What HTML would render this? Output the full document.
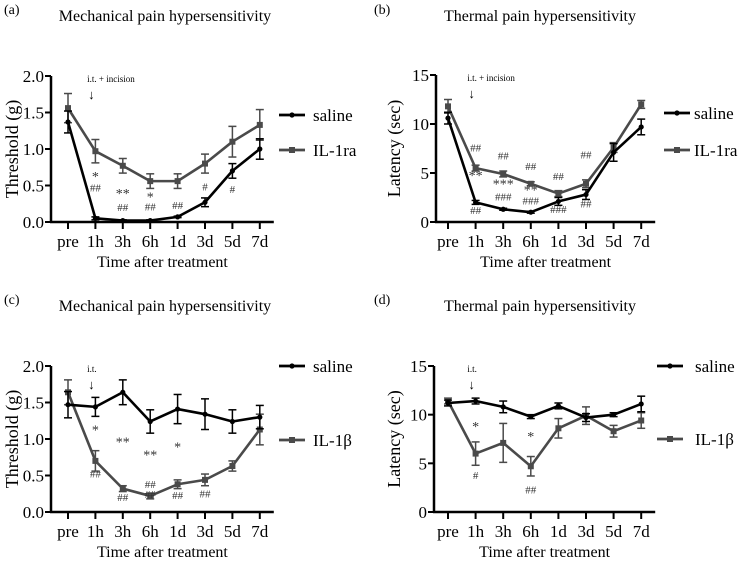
<!DOCTYPE html>
<html><head><meta charset="utf-8"><style>
html,body{margin:0;padding:0;background:#fff}
svg{display:block}
svg text{font-family:"Liberation Serif","Times New Roman",serif}
</style></head><body>
<svg id="fig" width="742" height="566" viewBox="0 0 742 566"></svg>
<script>
const categories=["pre","1h","3h","6h","1d","3d","5d","7d"];
const aSaline=[1.37,0.05,0.02,0.02,0.07,0.27,0.70,1.00];
const aSalineErr=[0.15,0.02,0.01,0.01,0.01,0.06,0.10,0.14];
const aIL1ra=[1.56,0.97,0.77,0.56,0.56,0.80,1.10,1.33];
const aIL1raErr=[0.20,0.16,0.10,0.10,0.10,0.13,0.21,0.21];
const bSaline=[10.6,2.0,1.3,1.0,2.1,2.8,7.1,9.7];
const bSalineErr=[0.6,0.2,0.1,0.1,0.4,0.5,0.9,0.8];
const bIL1ra=[11.8,5.5,4.9,3.9,2.9,3.9,7.6,12.0];
const bIL1raErr=[0.7,0.3,0.3,0.2,0.3,0.4,0.5,0.4];
const cSaline=[1.47,1.44,1.64,1.24,1.41,1.34,1.24,1.30];
const cSalineErr=[0.18,0.13,0.17,0.16,0.20,0.21,0.16,0.16];
const cIL1b=[1.64,0.70,0.32,0.22,0.38,0.44,0.63,1.13];
const cIL1bErr=[0.17,0.14,0.04,0.04,0.06,0.08,0.07,0.21];
const dSaline=[11.2,11.4,10.8,9.8,10.9,9.7,10.0,11.1];
const dSalineErr=[0.3,0.3,0.6,0.2,0.3,0.4,0.2,0.8];
const dIL1b=[11.4,6.0,7.1,4.7,8.6,9.9,8.3,9.4];
const dIL1bErr=[0.3,1.2,2.0,1.0,1.0,0.9,0.6,0.8];
const ticksThreshold=["0.0","0.5","1.0","1.5","2.0"];
const ticksLatency=["0","5","10","15"];
const aNotes=[[1,"*",0.56],[1,"##",0.42],[2,"**",0.33],[2,"##",0.15],[3,"*",0.28],[3,"##",0.16],[4,"##",0.18],[5,"#",0.43],[6,"#",0.40]];
const bNotes=[[1,"##",7.2],[1,"**",4.3],[1,"##",0.8],[2,"##",6.4],[2,"***",3.4],[2,"###",2.2],[3,"##",5.3],[3,"**",2.8],[3,"###",1.8],[4,"##",4.3],[4,"###",0.9],[5,"##",6.5],[5,"##",1.5]];
const cNotes=[[1,"*",1.06],[1,"##",0.47],[2,"**",0.9],[2,"##",0.15],[3,"**",0.72],[3,"##",0.33],[3,"##",0.19],[4,"*",0.83],[4,"##",0.18],[5,"##",0.2]];
const dNotes=[[1,"*",8.3],[1,"#",3.4],[3,"*",7.3],[3,"##",1.9]];

const NS="http://www.w3.org/2000/svg";
const svg=document.getElementById('fig');
function mk(tag,attrs,parent,text){const e=document.createElementNS(NS,tag);for(const k in attrs)e.setAttribute(k,attrs[k]);if(text!==undefined)e.textContent=text;(parent||svg).appendChild(e);return e;}

function panel(o){
  const g=mk('g',{});
  
  
  const x0=o.x0,dx=o.dx;
  const X=i=>x0+i*dx;
  const Y=v=>o.yb-(v/o.ymax)*(o.yb-o.yt);
  const axEnd=X(7)+14;
  const lbl=mk('text',{x:o.lx,y:o.ly,'font-size':14},g,o.label);
  
  const t=mk('text',{x:o.cx,y:o.ty,'font-size':16,'text-anchor':'middle'},g,o.title);
  
  const ya=mk('line',{x1:o.ax,y1:o.yt,x2:o.ax,y2:o.yb+1,stroke:'#000','stroke-width':2.5},g);
  
  const xa=mk('line',{x1:o.ax-1,y1:o.yb,x2:axEnd,y2:o.yb,stroke:'#000','stroke-width':2.5},g);
  
  o.ticks.forEach((tk,i)=>{const v=parseFloat(tk);const y=Y(v);
    mk('line',{x1:o.ax-6,y1:y,x2:o.ax,y2:y,stroke:'#000','stroke-width':2},g);
    const tl=mk('text',{x:o.ax-7,y:y+6,'font-size':17,'text-anchor':'end'},g,tk);
    });
  categories.forEach((c,i)=>{mk('line',{x1:X(i),y1:o.yb,x2:X(i),y2:o.yb+7,stroke:'#000','stroke-width':2},g);
    const tl=mk('text',{x:X(i),y:o.yb+25,'font-size':17,'text-anchor':'middle'},g,c);
    });
  const xt=mk('text',{x:(o.ax+axEnd)/2,y:o.yb+45,'font-size':16,'text-anchor':'middle'},g,'Time after treatment');
  
  const yc=(o.yt+o.yb)/2;
  const yt=mk('text',{x:o.yx,y:yc,'font-size':18,'text-anchor':'middle',transform:`rotate(-90 ${o.yx} ${yc})`},g,o.ytitle);
  
  const an=mk('text',{x:X(0.7),y:o.yt+6,'font-size':9},g,o.arrowText);
  
  const ar=mk('text',{x:X(0.7)+1,y:o.yt+23,'font-size':13},g,'↓');
  
  o.series.slice().reverse().forEach(s=>{
    const sg=mk('g',{},g);
    
    s.vals.forEach((v,i)=>{const e=s.err[i],x=X(i);
      mk('line',{x1:x,y1:Y(v-e),x2:x,y2:Y(v+e),stroke:s.col,'stroke-width':1.5},sg);
      mk('line',{x1:x-4,y1:Y(v-e),x2:x+4,y2:Y(v-e),stroke:s.col,'stroke-width':1.5},sg);
      mk('line',{x1:x-4,y1:Y(v+e),x2:x+4,y2:Y(v+e),stroke:s.col,'stroke-width':1.5},sg);});
    mk('polyline',{points:s.vals.map((v,i)=>X(i)+','+Y(v)).join(' '),fill:'none',stroke:s.col,'stroke-width':2.6,'stroke-linejoin':'round'},sg);
    s.vals.forEach((v,i)=>{let m;
      if(s.sq)m=mk('rect',{x:X(i)-3,y:Y(v)-3,width:6,height:6,fill:s.col},sg);
      else m=mk('circle',{cx:X(i),cy:Y(v),r:2.6,fill:s.col},sg);
      });
    const lg=mk('g',{},g);
    
    mk('line',{x1:o.legX,y1:s.ly,x2:o.legX+26,y2:s.ly,stroke:s.col,'stroke-width':2.8},lg);
    if(s.sq)mk('rect',{x:o.legX+10,y:s.ly-3,width:6,height:6,fill:s.col},lg);
    else mk('circle',{cx:o.legX+13,cy:s.ly,r:2.6,fill:s.col},lg);
    mk('text',{x:o.legX+o.legGap,y:s.ly+6,'font-size':17},lg,s.name);
  });
  o.notes.forEach(n=>{const tx=mk('text',{x:X(n[0]),y:Y(n[2]),'font-size':n[1].includes('#')?11:14,'text-anchor':'middle',fill:'#333'},g,n[1]);
    });
}
const G='#4a4a4a';
panel({id:'panel-a',label:'(a)',lx:4,ly:14,title:'Mechanical pain hypersensitivity',cx:165,ty:21,ax:51,x0:68,dx:27.4,yt:76,yb:222,ymax:2,ticks:ticksThreshold,yx:18,ytitle:'Threshold (g)',arrowText:'i.t. + incision',legX:279,legGap:34,notes:aNotes,
 series:[{key:'saline',name:'saline',vals:aSaline,err:aSalineErr,col:'#000',ly:115},{key:'il1ra',name:'IL-1ra',vals:aIL1ra,err:aIL1raErr,col:G,sq:1,ly:150}]});
panel({id:'panel-b',label:'(b)',lx:374,ly:14,title:'Thermal pain hypersensitivity',cx:540,ty:21,ax:436,x0:448,dx:27.6,yt:75,yb:222,ymax:15,ticks:ticksLatency,yx:400,ytitle:'Latency (sec)',arrowText:'i.t. + incision',legX:664,legGap:30,notes:bNotes,
 series:[{key:'saline',name:'saline',vals:bSaline,err:bSalineErr,col:'#000',ly:113},{key:'il1ra',name:'IL-1ra',vals:bIL1ra,err:bIL1raErr,col:G,sq:1,ly:150}]});
panel({id:'panel-c',label:'(c)',lx:4,ly:304,title:'Mechanical pain hypersensitivity',cx:165,ty:311,ax:51,x0:68,dx:27.4,yt:366,yb:512,ymax:2,ticks:ticksThreshold,yx:18,ytitle:'Threshold (g)',arrowText:'i.t.',legX:279,legGap:34,notes:cNotes,
 series:[{key:'saline',name:'saline',vals:cSaline,err:cSalineErr,col:'#000',ly:366},{key:'il1b',name:'IL-1β',vals:cIL1b,err:cIL1bErr,col:G,sq:1,ly:440}]});
panel({id:'panel-d',label:'(d)',lx:374,ly:304,title:'Thermal pain hypersensitivity',cx:540,ty:311,ax:434,x0:448,dx:27.6,yt:366,yb:512,ymax:15,ticks:ticksLatency,yx:400,ytitle:'Latency (sec)',arrowText:'i.t.',legX:657,legGap:38,notes:dNotes,
 series:[{key:'saline',name:'saline',vals:dSaline,err:dSalineErr,col:'#000',ly:366},{key:'il1b',name:'IL-1β',vals:dIL1b,err:dIL1bErr,col:G,sq:1,ly:439}]});
</script>
</body></html>
